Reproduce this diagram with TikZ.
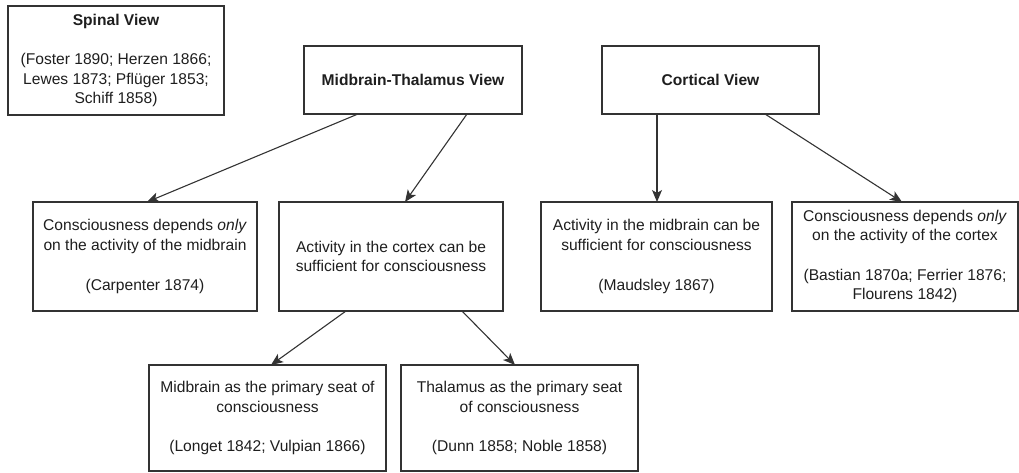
\documentclass[tikz,border=0pt]{standalone}
\usepackage{fontspec}
\setmainfont{Liberation Sans}
\usetikzlibrary{arrows.meta}
\definecolor{ink}{HTML}{1E1E1E}
\definecolor{edge}{HTML}{333333}
\begin{document}
\begin{tikzpicture}[x=1pt,y=-1pt,
  box/.style={draw=edge, line width=1.3pt, inner sep=0pt, outer sep=0pt,
    anchor=north west, align=center, text=ink,
    font=\fontsize{15.6}{19.7}\selectfont},
  conn/.style={draw=edge, line width=1.1pt, -{Stealth[length=12pt,width=10pt,inset=3pt]}}
]
\useasboundingbox (0,0) rectangle (1019,473);

\node[box, minimum width=216pt, minimum height=109pt] (spinal) at (8,6)
  {\textbf{Spinal View}\\[19.7pt](Foster 1890; Herzen 1866;\\Lewes 1873; Pflüger 1853;\\Schiff 1858)};

\node[box, minimum width=218pt, minimum height=68pt] (mt) at (304,46)
  {\textbf{Midbrain-Thalamus View}};

\node[box, minimum width=217pt, minimum height=68pt] (cort) at (602,46)
  {\textbf{Cortical View}};

\node[box, minimum width=224pt, minimum height=109pt] (b1) at (33,202)
  {Consciousness depends \textit{only}\\on the activity of the midbrain\\[19.7pt](Carpenter 1874)};

\node[box, minimum width=224pt, minimum height=109pt] (b2) at (279,202)
  {Activity in the cortex can be\\sufficient for consciousness};

\node[box, minimum width=231pt, minimum height=109pt] (b3) at (541,202)
  {Activity in the midbrain can be\\sufficient for consciousness\\[19.7pt](Maudsley 1867)};

\node[box, minimum width=226pt, minimum height=109pt] (b4) at (792,202)
  {Consciousness depends \textit{only}\\on the activity of the cortex\\[19.7pt](Bastian 1870a; Ferrier 1876;\\Flourens 1842)};

\node[box, minimum width=237pt, minimum height=106pt] (b5) at (149,365)
  {Midbrain as the primary seat of\\consciousness\\[19.7pt](Longet 1842; Vulpian 1866)};

\node[box, minimum width=237pt, minimum height=106pt] (b6) at (401,365)
  {Thalamus as the primary seat\\of consciousness\\[19.7pt](Dunn 1858; Noble 1858)};

\draw[conn] ([xshift=54pt]mt.south west) -- ([xshift=114pt]b1.north west);
\draw[conn] ([xshift=163pt]mt.south west) -- ([xshift=126pt]b2.north west);
\draw[conn] ([xshift=55pt]cort.south west) -- ([xshift=116pt]b3.north west);
\draw[conn] ([xshift=163pt]cort.south west) -- ([xshift=110pt]b4.north west);
\draw[conn] ([xshift=67pt]b2.south west) -- ([xshift=122pt]b5.north west);
\draw[conn] ([xshift=183pt]b2.south west) -- ([xshift=114pt]b6.north west);
\end{tikzpicture}
\end{document}
